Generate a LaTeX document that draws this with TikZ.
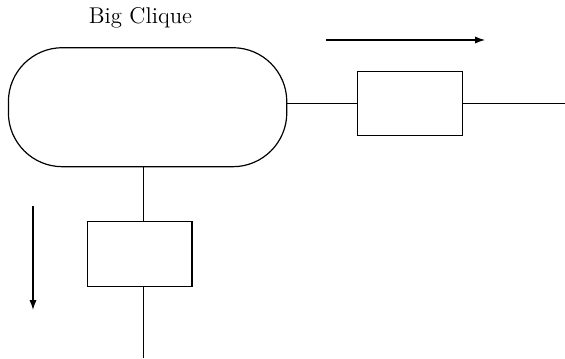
\documentclass[tikz,border=0pt]{standalone}
\usepackage{tikz}
\usetikzlibrary{positioning,arrows.meta}

\begin{document}
\begin{tikzpicture}[
  x=0.5pt,y=-0.5pt,line width=0.6pt,
  clique/.style={draw,rounded corners=27pt,minimum width=139.2pt,minimum height=59.5pt,inner sep=0pt},
  box/.style={draw,minimum width=52.3pt,minimum height=32.2pt,inner sep=0pt},
  arr/.style={-{Latex[length=5pt,width=3.6pt]}}]
\useasboundingbox (0,0) rectangle (565,358);
\node[clique] (big) at (147.6,107.2) {};
\node[anchor=base,font=\fontsize{11.4pt}{13pt}\selectfont] (name) at (140.5,24) {Big Clique};
\node[box] (sepright) at (409.8,103.4) {};
\node[box] (sepdown) at (139.7,254) {};
% free ends of the two branches
\coordinate (rightend) at (565,103.4);
\coordinate (downend) at (143.5,358);
\draw (big.east |- sepright.west) -- (sepright.west);
\draw (sepright.east) -- (rightend);
\draw (downend |- big.south) -- (downend |- sepdown.north);
\draw (downend |- sepdown.south) -- (downend);
% direction arrows
\coordinate (ra) at (326,40); \coordinate (rb) at (485,40);
\coordinate (da) at (33,206); \coordinate (db) at (33,310);
\draw[arr] (ra) -- (rb);
\draw[arr] (da) -- (db);
\end{tikzpicture}
\end{document}
